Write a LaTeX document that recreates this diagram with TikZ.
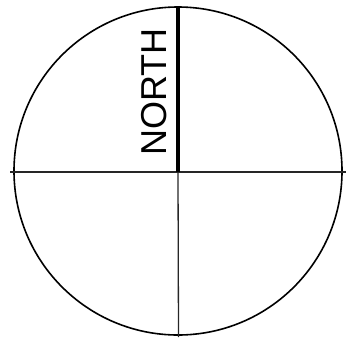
\documentclass[tikz,border=0pt]{standalone}
\usepackage{fontspec}
\setmainfont{Liberation Sans}
\usetikzlibrary{positioning, calc}

\begin{document}
\begin{tikzpicture}[
    x=1pt, y=-1pt,
    dial/.style={draw=black, circle, minimum size=328pt, inner sep=0pt, line width=1.6pt},
    axis/.style={draw=black!85, line width=1.3pt},
    needle/.style={draw=black, line width=4.5pt},
    label/.style={font=\fontsize{36}{40}\selectfont, rotate=90, anchor=base, inner sep=0pt}
]
    \useasboundingbox (0, 0) rectangle (350, 338);

    % =========================================================================
    % DIAL
    % =========================================================================
    \node (dial) [dial] at (178, 171) {};
    \coordinate (centre) at (178, 172);
    \coordinate (west_end) at (10, 172);
    \coordinate (east_end) at (346, 172);
    \coordinate (south_end) at (178.5, 337);

    % Cross lines
    \draw [axis] (west_end) -- (east_end);
    \draw [axis] (centre) -- (south_end);

    % North needle
    \draw [needle] (dial.north) -- (centre);

    % Label
    \node (north_lbl) [label] at (166, 92) {NORTH};

\end{tikzpicture}
\end{document}
